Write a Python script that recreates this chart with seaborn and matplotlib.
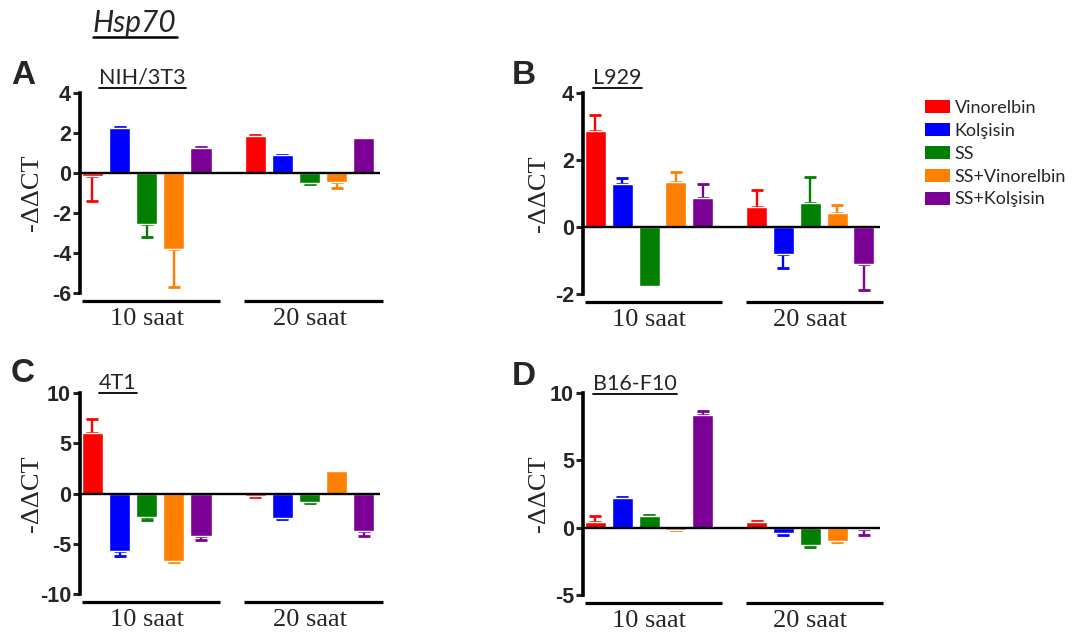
import pandas as pd
import matplotlib
matplotlib.use("Agg")
import matplotlib.pyplot as plt
import matplotlib.transforms as mtransforms
from matplotlib.patches import Patch
from matplotlib.lines import Line2D
import seaborn as sns

# =====================
# DATA
# =====================
treatments = ["Vinorelbin", "Kolşisin", "SS", "SS+Vinorelbin", "SS+Kolşisin"]
colors = ["#FF0000", "#0000FF", "#007F00", "#FF8000", "#7A0096"]
times = ["10 saat", "20 saat"]

# A - NIH/3T3
a_10 = [-0.15, 2.23, -2.55, -3.8, 1.23]
a_10_err = [1.25, 0.05, 0.65, 1.9, 0.07]
a_20 = [1.85, 0.88, -0.5, -0.45, 1.73]
a_20_err = [0.05, 0.04, 0.03, 0.3, 0.0]

# B - L929
b_10 = [2.87, 1.28, -1.77, 1.35, 0.87]
b_10_err = [0.48, 0.18, 0.0, 0.29, 0.41]
b_20 = [0.6, -0.82, 0.72, 0.43, -1.1]
b_20_err = [0.5, 0.4, 0.78, 0.23, 0.78]

# C - 4T1
c_10 = [6.0, -5.7, -2.3, -6.7, -4.2]
c_10_err = [1.4, 0.5, 0.3, 0.1, 0.4]
c_20 = [-0.25, -2.4, -0.8, 2.2, -3.7]
c_20_err = [0.05, 0.1, 0.15, 0.0, 0.5]

# D - B16-F10
d_10 = [0.4, 2.2, 0.9, -0.15, 8.35]
d_10_err = [0.45, 0.1, 0.05, 0.05, 0.35]
d_20 = [0.4, -0.4, -1.25, -1.0, -0.1]
d_20_err = [0.1, 0.15, 0.15, 0.1, 0.45]

panels = [
    ("A", "NIH/3T3", a_10, a_10_err, a_20, a_20_err, (-6, 4), [4, 2, 0, -2, -4, -6]),
    ("B", "L929", b_10, b_10_err, b_20, b_20_err, (-2, 4), [4, 2, 0, -2]),
    ("C", "4T1", c_10, c_10_err, c_20, c_20_err, (-10, 10), [10, 5, 0, -5, -10]),
    ("D", "B16-F10", d_10, d_10_err, d_20, d_20_err, (-5, 10), [10, 5, 0, -5]),
]

# axes boxes in pixels: left, top, right, bottom
W, H = 1085, 639
boxes = [(80, 93, 380, 293), (583, 93, 880, 294), (80, 393, 380, 594), (583, 393, 880, 595)]
letter_pos = [(11, 60), (512, 60), (11, 358), (512, 361)]
sub_pos = [(99, 84), (593, 84), (99, 389), (593, 390)]
ylab_x = [-0.123, -0.111, -0.123, -0.111]

# =====================
# PLOT
# =====================
sns.set_style("white")
plt.rcParams["font.family"] = ["Liberation Sans", "DejaVu Sans"]

fig = plt.figure(figsize=(W / 100, H / 100), dpi=100)

for k, (letter, cell, v10, e10, v20, e20, ylim, yt) in enumerate(panels):
    l, t, r, b = boxes[k]
    ax = fig.add_axes([l / W, 1 - b / H, (r - l) / W, (b - t) / H])

    df = pd.DataFrame({
        "time": [times[0]] * 5 + [times[1]] * 5,
        "treatment": treatments * 2,
        "value": v10 + v20,
    })
    errs = e10 + e20

    sns.barplot(data=df, x="time", y="value", hue="treatment", hue_order=treatments,
                palette=colors, width=5 / 6, gap=0.22, errorbar=None, saturation=1,
                legend=False, ax=ax, zorder=2)

    # one-sided error bars
    bar_conts = list(ax.containers)
    for i, cont in enumerate(bar_conts):
        for j, bar in enumerate(cont):
            val = df["value"].iloc[j * 5 + i]
            err = errs[j * 5 + i]
            if err <= 0:
                continue
            xc = bar.get_x() + bar.get_width() / 2
            yerr = [[0], [err]] if val >= 0 else [[err], [0]]
            ax.errorbar(xc, val, yerr=yerr, fmt="none", ecolor=colors[i],
                        elinewidth=1.7, capsize=4, capthick=2, zorder=1)

    ax.axhline(0, color="black", lw=1.7, zorder=4)

    # group lines under each time point
    trans = mtransforms.blended_transform_factory(ax.transData, ax.transAxes)
    for c in [0, 1]:
        ax.plot([c - 0.40, c + 0.45], [-0.04, -0.04], transform=trans,
                color="black", lw=2.3, clip_on=False, solid_capstyle="butt")

    ax.set_xlim(-0.41, 1.433)
    ax.set_ylim(*ylim)
    ax.set_yticks(yt)
    ax.set_yticklabels([str(v) for v in yt], fontweight="bold", fontsize=15.5)
    ax.set_xticks([0, 1])
    ax.set_xticklabels(times, fontfamily="Liberation Serif", fontsize=19)
    ax.tick_params(axis="x", length=0, pad=11)
    ax.tick_params(axis="y", direction="out", length=5, width=2.2, pad=1.5, left=True)
    ax.set_xlabel("")
    ax.set_ylabel("-ΔΔCT", fontfamily="Liberation Serif", fontsize=19)
    ax.yaxis.set_label_coords(ylab_x[k], 0.5)

    for s in ["top", "right", "bottom"]:
        ax.spines[s].set_visible(False)
    ax.spines["left"].set_linewidth(2.6)
    ax.spines["left"].set_color("black")

    fig.text(letter_pos[k][0] / W, 1 - letter_pos[k][1] / H, letter,
             fontsize=24, fontweight="bold", va="top", ha="left")
    fig.text(sub_pos[k][0] / W, 1 - sub_pos[k][1] / H, cell,
             fontsize=15.5, fontfamily="Lato", va="baseline", ha="left", gid="ul")

title = fig.text(93 / W, 1 - 32 / H, "Hsp70", fontsize=21.5, fontfamily="Lato",
                 fontstyle="italic", va="baseline", ha="left", gid="ul")

# underline the titles
fig.canvas.draw()
renderer = fig.canvas.get_renderer()
for txt in list(fig.texts):
    if txt.get_gid() != "ul":
        continue
    bb = txt.get_window_extent(renderer)
    lw = 1.8 if txt is title else 1.3
    fig.add_artist(Line2D([bb.x0 / W, bb.x1 / W], [bb.y0 / H, bb.y0 / H],
                          transform=fig.transFigure, color="black", lw=lw))

handles = [Patch(facecolor=c, edgecolor="none", label=t) for c, t in zip(colors, treatments)]
fig.legend(handles=handles, loc="upper left", bbox_to_anchor=(925 / W, 1 - 100 / H),
           frameon=False, prop={"family": "Lato", "size": 13}, handlelength=1.4,
           handleheight=0.75, handletextpad=0.25, labelspacing=0.38, borderpad=0,
           borderaxespad=0)

plt.savefig("out.png", dpi=100)
